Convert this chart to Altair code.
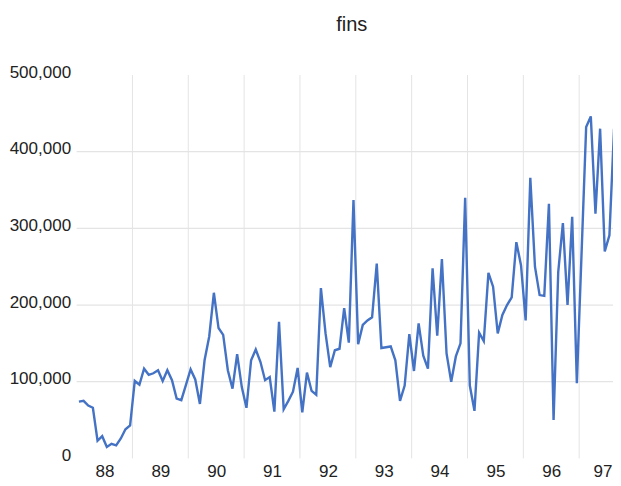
import altair as alt
import pandas as pd

# monthly values, Jan 1988 onward
values = [
    74000, 75000, 69000, 66000, 23000, 29000, 15000, 19000, 17000, 26000, 38000, 43000,
    101000, 96000, 117000, 109000, 111000, 115000, 101000, 115000, 102000, 78000, 76000, 96000,
    116000, 103000, 71000, 128000, 159000, 216000, 170000, 161000, 115000, 91000, 136000, 93000,
    66000, 128000, 142000, 126000, 102000, 106000, 61000, 178000, 64000, 75000, 87000, 118000,
    60000, 112000, 88000, 83000, 222000, 163000, 119000, 141000, 143000, 196000, 151000, 337000,
    149000, 174000, 180000, 184000, 254000, 144000, 145000, 146000, 128000, 75000, 95000, 162000,
    114000, 176000, 134000, 117000, 248000, 160000, 260000, 137000, 100000, 133000, 150000, 340000,
    95000, 62000, 164000, 153000, 242000, 224000, 163000, 187000, 200000, 210000, 282000, 252000,
    180000, 366000, 250000, 213000, 212000, 332000, 50000, 243000, 307000, 200000, 315000, 98000,
    265000, 432000, 446000, 319000, 430000, 270000, 291000, 430000,
]
year_labels = ["88", "89", "90", "91", "92", "93", "94", "95", "96", "97"]
y_ticks = [0, 100000, 200000, 300000, 400000, 500000]
y_grid = [100000, 200000, 300000, 400000]

FONT = "Liberation Sans, Arial, sans-serif"
TEXT = "#222222"
GRID = "#e4e4e4"

df = pd.DataFrame({"m": [i + 0.5 for i in range(len(values))], "v": values})
bounds = pd.DataFrame({"m": [12 * k for k in range(1, len(year_labels))]})
hgrid = pd.DataFrame({"v": y_grid})

X_END = 115.27
x_scale = alt.Scale(domain=[0, X_END], nice=False, zero=False)
y_scale = alt.Scale(domain=[0, 500000], nice=False)

label_array = "[" + ",".join("'" + s + "'" for s in year_labels) + "]"
label_vals = [min(12 * k + 6, 113) for k in range(len(year_labels))]

x_axis = alt.Axis(
    values=label_vals,
    labelExpr=label_array + "[floor(datum.value / 12)]",
    title=None, grid=False, domain=False, ticks=False,
    labelFont=FONT, labelFontSize=17, labelColor=TEXT,
    labelPadding=5, labelFlush=False, labelOverlap=False,
)
y_axis = alt.Axis(
    values=y_ticks, labelExpr="format(datum.value, ',')", title=None,
    grid=False, domain=False, ticks=False, labelFont=FONT, labelFontSize=17,
    labelColor=TEXT, labelPadding=6, labelOffset=-3, labelFlush=False,
    labelOverlap=False,
)

vrules = alt.Chart(bounds).mark_rule(color=GRID, strokeWidth=1).encode(
    x=alt.X("m:Q", scale=x_scale, axis=x_axis)
)
hrules = alt.Chart(hgrid).mark_rule(color=GRID, strokeWidth=1.2).encode(
    y=alt.Y("v:Q", scale=y_scale, axis=y_axis)
)
line = alt.Chart(df).mark_line(color="#4472C4", strokeWidth=2.4, clip=True).encode(
    x=alt.X("m:Q", scale=x_scale, axis=x_axis),
    y=alt.Y("v:Q", scale=y_scale, axis=y_axis),
)

chart = (
    alt.layer(vrules, hrules, line)
    .properties(
        width=536.4,
        height=383.4,
        title=alt.TitleParams(
            "fins", font=FONT, fontSize=20, fontWeight="normal", color=TEXT,
            anchor="middle", offset=28, dx=7,
        ),
        padding={"left": 68.6, "top": 67, "right": 0, "bottom": 27.6},
        autosize=alt.AutoSizeParams(type="none"),
        background="white",
    )
    .configure_view(stroke=None)
)

chart.save("out.html", embed_options={"renderer": "svg", "actions": False})
